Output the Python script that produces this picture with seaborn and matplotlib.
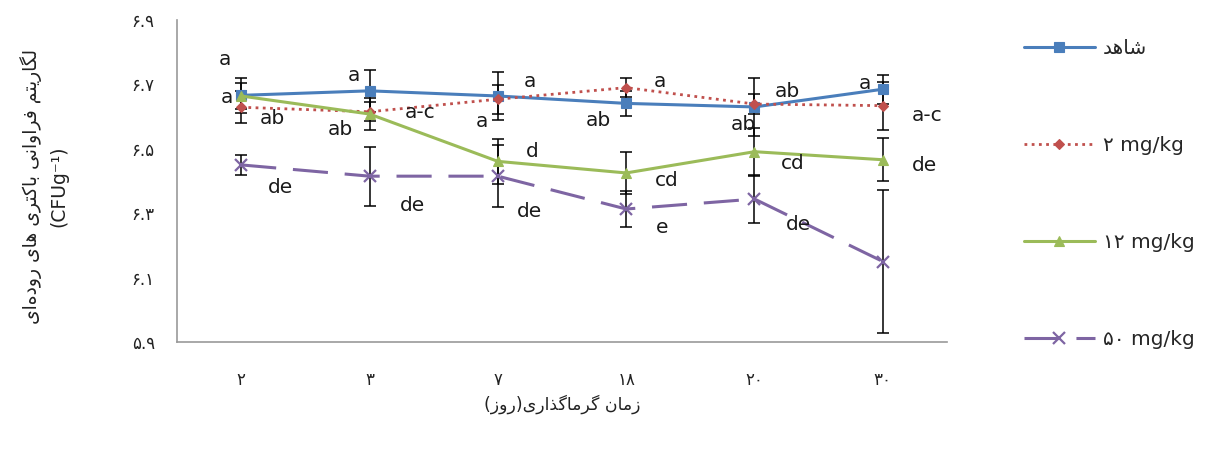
import numpy as np
import pandas as pd
import matplotlib
matplotlib.use("Agg")
import matplotlib.pyplot as plt
import seaborn as sns
from matplotlib.lines import Line2D

# ---------------- data ----------------
days = ["۲", "۳", "۷", "۱۸", "۲۰", "۳۰"]
y_ticks = [5.9, 6.1, 6.3, 6.5, 6.7, 6.9]
y_tick_labels = ["۵.۹", "۶.۱", "۶.۳", "۶.۵", "۶.۷", "۶.۹"]
series_names = ["شاهد", "۲ mg/kg", "۱۲ mg/kg", "۵۰ mg/kg"]

control = [6.666, 6.680, 6.664, 6.641, 6.630, 6.685]
control_err = [0.055, 0.065, 0.075, 0.040, 0.090, 0.045]
mg2 = [6.629, 6.615, 6.654, 6.690, 6.639, 6.634]
mg2_err = [0.050, 0.030, 0.045, 0.030, 0.030, 0.075]
mg12 = [6.664, 6.608, 6.461, 6.425, 6.491, 6.466]
mg12_err = [0.040, 0.050, 0.070, 0.065, 0.075, 0.066]
mg50 = [6.450, 6.415, 6.415, 6.313, 6.344, 6.150]
mg50_err = [0.030, 0.092, 0.097, 0.057, 0.075, 0.222]

letters_control = ["a", "a", "a", "ab", "ab", "a"]
letters_mg2 = ["ab", "a-c", "a", "a", "ab", "a-c"]
letters_mg12 = ["a", "ab", "d", "cd", "cd", "de"]
letters_mg50 = ["de", "de", "de", "e", "de", ""]

y_label = "لگاریتم فراوانی باکتری های روده\u200cای"
y_label2 = "(CFUg⁻¹)"
x_label = "زمان گرماگذاری(روز)"

# ---------------- simple Persian shaping ----------------
FORMS = {
    "ا": ("\uFE8D", "\uFE8E", None, None),
    "ب": ("\uFE8F", "\uFE90", "\uFE91", "\uFE92"),
    "ت": ("\uFE95", "\uFE96", "\uFE97", "\uFE98"),
    "د": ("\uFEA9", "\uFEAA", None, None),
    "ذ": ("\uFEAB", "\uFEAC", None, None),
    "ر": ("\uFEAD", "\uFEAE", None, None),
    "ز": ("\uFEAF", "\uFEB0", None, None),
    "ش": ("\uFEB5", "\uFEB6", "\uFEB7", "\uFEB8"),
    "ف": ("\uFED1", "\uFED2", "\uFED3", "\uFED4"),
    "ک": ("\uFB8E", "\uFB8F", "\uFB90", "\uFB91"),
    "گ": ("\uFB92", "\uFB93", "\uFB94", "\uFB95"),
    "ل": ("\uFEDD", "\uFEDE", "\uFEDF", "\uFEE0"),
    "م": ("\uFEE1", "\uFEE2", "\uFEE3", "\uFEE4"),
    "ن": ("\uFEE5", "\uFEE6", "\uFEE7", "\uFEE8"),
    "ه": ("\uFEE9", "\uFEEA", "\uFEEB", "\uFEEC"),
    "و": ("\uFEED", "\uFEEE", None, None),
    "ی": ("\uFBFC", "\uFBFD", "\uFBFE", "\uFBFF"),
}


def shape(s):
    out = []
    n = len(s)
    for i, ch in enumerate(s):
        if ch not in FORMS:
            out.append(ch)
            continue
        prev = s[i - 1] if i > 0 else ""
        nxt = s[i + 1] if i < n - 1 else ""
        jp = prev in FORMS and FORMS[prev][2] is not None
        jn = nxt in FORMS and FORMS[ch][2] is not None
        f = FORMS[ch]
        if jp and jn:
            g = f[3]
        elif jp:
            g = f[1]
        elif jn:
            g = f[2]
        else:
            g = f[0]
        out.append(g)
    vis = "".join(reversed(out)).replace("\u200c", "")
    return vis.translate(str.maketrans("()", ")("))


def needs_shape(s):
    return any(c in FORMS for c in s)


# ---------------- layout / style ----------------
W, H = 1210, 450
ax_left, ax_right, ax_top, ax_bottom = 177, 947, 20, 342
colors = ["#4A7EBB", "#C0504D", "#9BBB59", "#7E65A3"]
markers = ["s", "D", "^", "x"]
msizes = [6.5, 5.5, 7, 9]
linestyles = ["-", (0, (1, 1.6)), "-", (0, (11.5, 5.5))]
lws = [2.2, 2.0, 2.2, 2.2]
offsets = [
    [(-16, 36), (-16, 15), (32, 14), (-28, -17), (33, 15), (-18, 6)],
    [(31, -11), (51, -1), (-16, -22), (34, 6), (-11, -20), (44, -10)],
    [(-14, -2), (-29, -15), (34, 10), (41, -8), (38, -12), (42, -6)],
    [(39, -23), (43, -29), (32, -35), (36, -18), (44, -25), None],
]

sns.set_theme(style="white")
plt.rcParams["font.family"] = ["DejaVu Sans"]

fig = plt.figure(figsize=(W / 100, H / 100), dpi=100)
ax = fig.add_axes([ax_left / W, 1 - ax_bottom / H,
                   (ax_right - ax_left) / W, (ax_bottom - ax_top) / H])

values = [control, mg2, mg12, mg50]
errs = [control_err, mg2_err, mg12_err, mg50_err]
letters = [letters_control, letters_mg2, letters_mg12, letters_mg50]

rows = []
for name, vals, ers in zip(series_names, values, errs):
    for i, (v, e) in enumerate(zip(vals, ers)):
        rows.append({"series": name, "pos": i, "day": days[i], "value": v, "err": e})
df = pd.DataFrame(rows)

handles = []
for k, name in enumerate(series_names):
    sub = df[df["series"] == name]
    ax.errorbar(sub["pos"], sub["value"], yerr=sub["err"], fmt="none",
                ecolor="black", elinewidth=1.1, capsize=4.5, capthick=1.1, zorder=2)
    sns.lineplot(data=sub, x="pos", y="value", ax=ax, color=colors[k],
                 linestyle=linestyles[k], lw=lws[k], marker=markers[k],
                 markersize=msizes[k], markeredgecolor=colors[k],
                 markeredgewidth=1.6 if markers[k] == "x" else 0.8,
                 estimator=None, errorbar=None, sort=False, legend=False,
                 zorder=3)
    handles.append(Line2D([], [], color=colors[k], linestyle=linestyles[k], lw=lws[k],
                          marker=markers[k], markersize=msizes[k],
                          markeredgecolor=colors[k],
                          markeredgewidth=1.6 if markers[k] == "x" else 0.8))

# significance letters
for k in range(4):
    for i in range(6):
        lab = letters[k][i]
        off = offsets[k][i]
        if not lab or off is None:
            continue
        ax.annotate(lab, xy=(i, values[k][i]), xytext=off, textcoords="offset pixels",
                    ha="center", va="center", fontsize=14.5, color="#1a1a1a", zorder=4)

ax.set_xlim(-0.5, 5.5)
ax.set_ylim(5.9, 6.9)
ax.set_xticks(range(6))
ax.set_xticklabels(days, fontsize=12, color="#222222")
ax.set_xticks(np.arange(-0.5, 6, 1), minor=True)
ax.tick_params(axis="x", which="major", length=0, pad=21)
ax.tick_params(axis="x", which="minor", length=6, width=1, color="#999999", direction="out")
ax.set_yticks(y_ticks)
ax.set_yticklabels(y_tick_labels, fontsize=12, color="#222222")
ax.tick_params(axis="y", which="major", length=4, width=1, color="#999999", direction="out", pad=12)
ax.set_xlabel("")
ax.set_ylabel("")
for s in ["top", "right"]:
    ax.spines[s].set_visible(False)
for s in ["left", "bottom"]:
    ax.spines[s].set_color("#999999")
    ax.spines[s].set_linewidth(1.2)

fig.text((ax_left + ax_right) / 2 / W, 1 - 404 / H, shape(x_label),
         ha="center", va="center", fontsize=12.5, color="#222222")
fig.text(44 / W, 1 - 186 / H, shape(y_label) + "\n" + y_label2, rotation=90,
         ha="center", va="center", multialignment="center", fontsize=13.5,
         color="#222222", linespacing=1.5)

leg_labels = [shape(n) if needs_shape(n) else n for n in series_names]
fig.legend(handles, leg_labels, loc="upper left", bbox_to_anchor=(1016 / W, 1 - 31 / H),
           frameon=False, fontsize=14.5, numpoints=1, handlelength=3.5,
           handletextpad=0.4, labelspacing=3.87, borderaxespad=0)

fig.savefig("out.png", dpi=100, facecolor="white")
